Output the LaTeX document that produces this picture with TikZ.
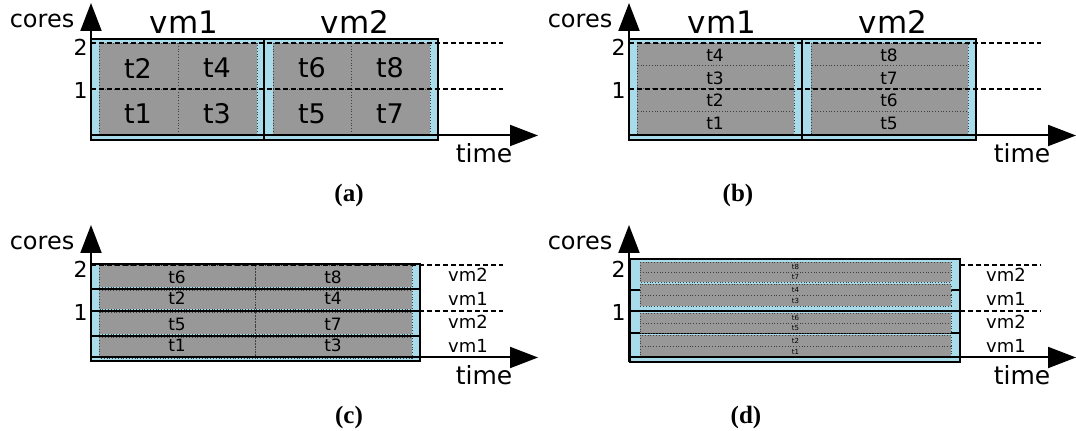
\documentclass[tikz,border=0pt]{standalone}
\usepackage{xcolor}
\usepackage{fontspec}
\setmainfont{DejaVu Sans}
\newfontfamily\capfont{Liberation Serif}
\usepackage{tikz}
\usetikzlibrary{arrows.meta}
\definecolor{vmblue}{RGB}{168,220,235}
\definecolor{taskgray}{RGB}{152,152,152}
\newcommand{\fs}[1]{\fontsize{#1}{#1}\selectfont}

\begin{document}
\begin{tikzpicture}[x=0.5pt,y=-0.5pt,
  every node/.style={inner sep=0pt},
  vmbox/.style={draw,line width=0.9pt,fill=vmblue},
  task/.style={draw=black!75,densely dotted,line width=0.4pt,fill=taskgray},
  level/.style={dash pattern=on 2.6pt off 1.4pt,line width=0.8pt},
  axis/.style={line width=1pt,-{Triangle[length=14pt,width=10.5pt]}}]
  \useasboundingbox (0,0) rectangle (1076,431);
  \begin{scope}
    \draw[vmbox] (91,39) rectangle (264,140);
    \draw[vmbox] (264,39) rectangle (438,140);
    \foreach \xa/\xb in {99/178,178/257,273/351,351/430}
      \foreach \ya/\yb in {43/89,89/134}
        \draw[task] (\xa,\ya) rectangle (\xb,\yb);
    \foreach \n/\x/\y in {1/138/114,2/138/68,3/217/114,4/217/68,5/312/114,6/312/68,7/390/114,8/390/68}
      \node[font=\fs{13.5}] (a\n) at (\x,\y) {t\n};
  \end{scope}
  \begin{scope}[shift={(538,0)}]
    \draw[vmbox] (91,39) rectangle (264,140);
    \draw[vmbox] (264,39) rectangle (438,140);
    \foreach \xa/\xb in {99/256,273/430}
      \foreach \ya/\yb in {43/65,65/88,88/111,111/134}
        \draw[task] (\xa,\ya) rectangle (\xb,\yb);
    \foreach \n/\x/\y in {1/177/123,2/177/100,3/177/78,4/177/55,5/351/123,6/351/100,7/351/78,8/351/55}
      \node[font=\fs{8.5}] (b\n) at (\x,\y) {t\n};
  \end{scope}
  \foreach \dx in {0,538} {
    \node[font=\fs{15.5}] (vmone\dx) at ({184+\dx},22) {vm1};
    \node[font=\fs{15.5}] (vmtwo\dx) at ({355+\dx},22) {vm2};
  }
  \begin{scope}[shift={(0,222)}]
    \foreach \ya/\yb in {42/67,67/89,89/114,114/139}
      \draw[vmbox] (91,\ya) rectangle (420,\yb);
    \foreach \ya/\yb in {43.5/65.5,68.5/87.5,90.5/112.5,115.5/136}
      \foreach \xa/\xb in {99/255.5,255.5/412}
        \draw[task] (\xa,\ya) rectangle (\xb,\yb);
    \foreach \n/\x/\y in {6/177/55,8/333/55,2/177/76,4/333/76,5/177/102,7/333/102,1/177/123,3/333/123}
      \node[font=\fs{8.5}] (c\n) at (\x,\y) {t\n};
  \end{scope}
  \begin{scope}[shift={(538,222)}]
    \foreach \ya/\yb in {37/68,68/89,89/111,111/140}
      \draw[vmbox] (92,\ya) rectangle (422,\yb);
    \foreach \n/\ya/\yb in {8/40/50,7/50/60,4/62/73,3/73/84,6/91/101,5/101/111,2/113/124,1/124/135} {
      \draw[task] (102,\ya) rectangle (413,\yb);
      \node[font=\fs{3.5}] (d\n) at (257.5,{(\ya+\yb)/2}) {t\n};
    }
  \end{scope}
  \foreach \dx/\dy/\from in {0/0/91,538/0/91,0/222/91,538/222/422} {
    \begin{scope}[shift={(\dx,\dy)}]
      \draw[level] (\from,43) -- (503,43) (\from,89) -- (503,89);
      \draw[axis] (91,140) -- (91,3);
      \draw[axis] (91,135.5) -- (538,135.5);
      \node[font=\fs{12}] (cores\dx\dy) at (42,21) {cores};
      \node[font=\fs{12.5}] (time\dx\dy) at (484,153) {time};
      \node[font=\fs{11},anchor=east] (two\dx\dy) at (88,47) {2};
      \node[font=\fs{11},anchor=east] (one\dx\dy) at (88,90) {1};
    \end{scope}
  }
  \foreach \k/\y/\t in {1/53/vm2,2/77/vm1,3/100/vm2,4/123.5/vm1} {
    \node[font=\fs{9}] (sidec\k) at (468,{222+\y}) {\t};
    \node[font=\fs{9}] (sided\k) at (1006,{222+\y}) {\t};
  }
  \node[font=\capfont\bfseries\fs{12.5}] (capA) at (349,195) {(a)};
  \node[font=\capfont\bfseries\fs{12.5}] (capB) at (738,195) {(b)};
  \node[font=\capfont\bfseries\fs{12.5}] (capC) at (349,417) {(c)};
  \node[font=\capfont\bfseries\fs{12.5}] (capD) at (746,417) {(d)};
\end{tikzpicture}
\end{document}
